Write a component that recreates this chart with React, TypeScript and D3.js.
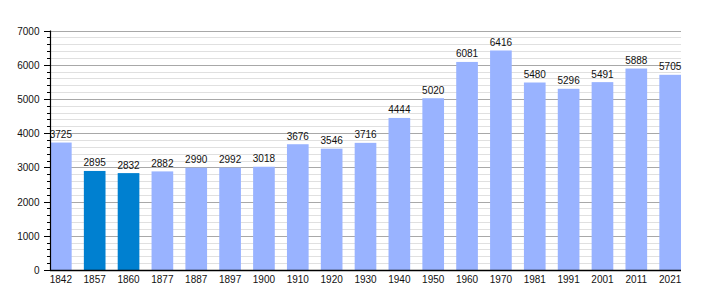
import React from "react";
import * as d3 from "d3";

const years = ["1842","1857","1860","1877","1887","1897","1900","1910","1920","1930","1940","1950","1960","1970","1981","1991","2001","2011","2021"];
const population = [3725,2895,2832,2882,2990,2992,3018,3676,3546,3716,4444,5020,6081,6416,5480,5296,5491,5888,5705];
const highlighted = ["1857","1860"];
const majorTicks = [0,1000,2000,3000,4000,5000,6000,7000];

const W = 710, H = 300;
const left = 50, right = 681, top = 30.5, bottom = 270;

export default function App() {
  const x = d3.scaleBand<string>().domain(years).range([left, right]).paddingInner(0.36).paddingOuter(0);
  const y = d3.scaleLinear().domain([0, 7000]).range([bottom, top]);
  const minor = d3.range(0, 7001, 200).filter(v => v % 1000 !== 0);
  const font = "'Liberation Sans', Arial, sans-serif";
  return (
    <svg width={W} height={H} style={{ position: "absolute", left: 0, top: 0 }} fontFamily={font}>
      <rect width={W} height={H} fill="#fff" />
      {minor.map(v => (
        <g key={"m" + v}>
          <line x1={left} x2={right} y1={Math.round(y(v)) + 0.5} y2={Math.round(y(v)) + 0.5} stroke="#e0e0e0" strokeWidth={1} />
          <line x1={left - 3} x2={left} y1={Math.round(y(v)) + 0.5} y2={Math.round(y(v)) + 0.5} stroke="#000" strokeWidth={1} />
        </g>
      ))}
      {majorTicks.map(v => (
        <g key={"M" + v}>
          {v > 0 && <line x1={left} x2={right} y1={Math.round(y(v)) + 0.5} y2={Math.round(y(v)) + 0.5} stroke="#a8a8a8" strokeWidth={1} />}
          <line x1={left - 6} x2={left} y1={Math.round(y(v)) + 0.5} y2={Math.round(y(v)) + 0.5} stroke="#000" strokeWidth={1} />
          <text x={39.5} y={y(v) + 4} textAnchor="end" fontSize={10} fill="#111">{v}</text>
        </g>
      ))}
      {years.map((yr, i) => (
        <g key={yr}>
          <rect x={x(yr)} y={y(population[i])} width={x.bandwidth()} height={bottom - y(population[i])}
            fill={highlighted.includes(yr) ? "#0080d0" : "#99b3ff"} />
          <text x={(x(yr) as number) + x.bandwidth() / 2} y={y(population[i]) - 4.5} textAnchor="middle" fontSize={10} fill="#111">{population[i]}</text>
          <text x={(x(yr) as number) + x.bandwidth() / 2} y={283} textAnchor="middle" fontSize={10} fill="#111">{yr}</text>
        </g>
      ))}
      <line x1={left + 0.5} x2={left + 0.5} y1={top} y2={bottom} stroke="#000" strokeWidth={1.2} />
      <line x1={left} x2={right} y1={bottom + 0.5} y2={bottom + 0.5} stroke="#000" strokeWidth={1.5} />
    </svg>
  );
}
